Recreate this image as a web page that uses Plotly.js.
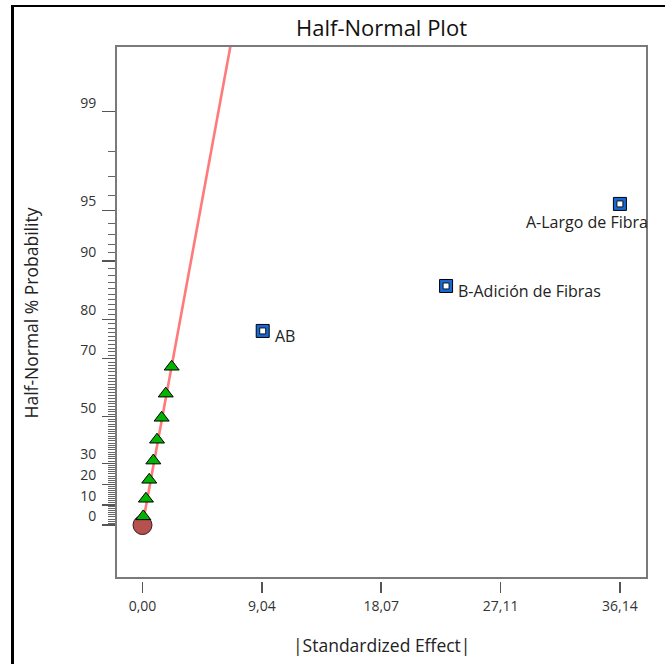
<!DOCTYPE html>
<html><head><meta charset="utf-8">
<script src="https://cdn.plot.ly/plotly-3.0.1.min.js"></script>
<style>
html,body{margin:0;padding:0;background:#fff;overflow:hidden}
#wrap{position:relative;width:665px;height:664px}
#chart{width:665px;height:664px}
#border{position:absolute;left:11px;top:5px;width:700px;height:700px;border-left:3px solid #000;border-top:2px solid #000;pointer-events:none}
</style></head><body>
<div id="wrap"><div id="chart"></div><div id="border"></div></div>
<script>
// ---- data ----
const errorEffect = [0.00];
const errorProb = [0.0];
const triEffect = [0.06, 0.26, 0.51, 0.82, 1.10, 1.45, 1.76, 2.21];
const triProb = [4.3, 13.0, 22.2, 31.2, 40.5, 49.6, 58.7, 67.6];
const termNames = ["AB", "B-Adición de Fibras", "A-Largo de Fibra"];
const termEffect = [9.10, 22.98, 36.14];
const termProb = [77.35, 86.37, 95.46];
const lineEffect = [0, 7.0];
const lineProb = [0, 99.83];
const xTickVals = [0, 9.04, 18.07, 27.11, 36.14];
const xTickText = ["0,00", "9,04", "18,07", "27,11", "36,14"];
const yTickProb = [0, 10, 20, 30, 50, 70, 80, 90, 95, 99];

// ---- half-normal probability scale ----
function normInv(p) {
  const a = [-3.969683028665376e+01, 2.209460984245205e+02, -2.759285104469687e+02, 1.383577518672690e+02, -3.066479806614716e+01, 2.506628277459239e+00];
  const b = [-5.447609879822406e+01, 1.615858368580409e+02, -1.556989798598866e+02, 6.680131188771972e+01, -1.328068155288572e+01];
  const c = [-7.784894002430293e-03, -3.223964580411365e-01, -2.400758277161838e+00, -2.549732539343734e+00, 4.374664141464968e+00, 2.938163982698783e+00];
  const d = [7.784695709041462e-03, 3.224671290700398e-01, 2.445134137142996e+00, 3.754408661907416e+00];
  const pl = 0.02425, ph = 1 - pl;
  let q, r;
  if (p < pl) { q = Math.sqrt(-2 * Math.log(p)); return (((((c[0]*q+c[1])*q+c[2])*q+c[3])*q+c[4])*q+c[5]) / ((((d[0]*q+d[1])*q+d[2])*q+d[3])*q+1); }
  if (p <= ph) { q = p - 0.5; r = q*q; return (((((a[0]*r+a[1])*r+a[2])*r+a[3])*r+a[4])*r+a[5])*q / (((((b[0]*r+b[1])*r+b[2])*r+b[3])*r+b[4])*r+1); }
  q = Math.sqrt(-2 * Math.log(1 - p)); return -(((((c[0]*q+c[1])*q+c[2])*q+c[3])*q+c[4])*q+c[5]) / ((((d[0]*q+d[1])*q+d[2])*q+d[3])*q+1);
}
const hz = pct => (pct <= 0 ? 0 : normInv(0.5 + pct / 200));

const minorProb = [];
for (let i = 1; i < 99; i++) if (!yTickProb.includes(i)) minorProb.push(i);

const traces = [
  { x: lineEffect, y: lineProb.map(hz), mode: 'lines', line: { color: '#ff7a7a', width: 2.6 }, hoverinfo: 'skip' },
  { x: errorEffect, y: errorProb.map(hz), mode: 'markers', marker: { symbol: 'circle', size: 19, color: '#b5524f', line: { color: '#3a1a1a', width: 1 } } },
  { x: triEffect, y: triProb.map(hz), mode: 'markers', marker: { symbol: 'triangle-up', size: 13, color: '#00b400', line: { color: '#000', width: 1 } } },
  { x: termEffect, y: termProb.map(hz), mode: 'markers', marker: { symbol: 'square', size: 13, color: '#1668d4', line: { color: '#000', width: 1 } } },
  { x: termEffect, y: termProb.map(hz), mode: 'markers', marker: { symbol: 'square', size: 6, color: '#ffffff', line: { color: '#111', width: 1 } } }
];

const FONT = 'Open Sans, sans-serif';
const labelFont = { family: FONT, size: 16, color: '#222' };
const annotations = [
  { x: termEffect[0], y: hz(termProb[0]), text: termNames[0], showarrow: false, xanchor: 'left', yanchor: 'middle', xshift: 10, yshift: -5, font: labelFont },
  { x: termEffect[1], y: hz(termProb[1]), text: termNames[1], showarrow: false, xanchor: 'left', yanchor: 'middle', xshift: 10, yshift: -5, font: labelFont },
  { x: termEffect[2], y: hz(termProb[2]), text: termNames[2], showarrow: false, xanchor: 'right', yanchor: 'middle', xshift: 30, yshift: -18, font: labelFont },
  { xref: 'paper', yref: 'paper', x: 0, y: 0.5, xanchor: 'center', yanchor: 'middle', xshift: -86, textangle: -90, showarrow: false,
    text: 'Half-Normal % Probability', font: { family: FONT, size: 17.5, color: '#222' } },
  { xref: 'paper', yref: 'paper', x: 0.5, y: 0, xanchor: 'center', yanchor: 'middle', yshift: -64, showarrow: false,
    text: '|Standardized Effect|', font: { family: FONT, size: 17.5, color: '#222' } }
];

const layout = {
  width: 665, height: 664,
  margin: { l: 116, r: 18, t: 46, b: 83 },
  paper_bgcolor: '#fff', plot_bgcolor: '#fff',
  showlegend: false,
  title: { text: 'Half-Normal Plot', x: 0.5, xref: 'paper', xanchor: 'center', y: 1 - 28 / 664, yref: 'container', yanchor: 'middle',
           font: { family: FONT, size: 22, color: '#111' } },
  xaxis: {
    range: [-2.006, 38.19], anchor: 'free', position: 0,
    tickmode: 'array', tickvals: xTickVals, ticktext: xTickText,
    ticks: 'outside', ticklen: 11, tickwidth: 1.5, tickcolor: '#555',
    showgrid: false, zeroline: false, showline: false,
    tickfont: { family: FONT, size: 14, color: '#333' }, ticklabelstandoff: 1
  },
  yaxis: {
    range: [-0.330, 2.985], domain: [3 / 535, 1],
    tickmode: 'array', tickvals: yTickProb.map(hz), ticktext: yTickProb.map(String),
    ticks: 'outside', ticklen: 13, tickwidth: 1.3, tickcolor: '#555',
    minor: { tickmode: 'array', tickvals: minorProb.map(hz), ticks: 'outside', ticklen: 7, tickwidth: 1, tickcolor: '#666', showgrid: false },
    showgrid: false, zeroline: false, showline: false,
    tickfont: { family: FONT, size: 14, color: '#333' },
    ticklabelshift: -9, ticklabelstandoff: 3
  },
  shapes: [
    { type: 'rect', xref: 'x domain', yref: 'y domain', x0: 0, x1: 1, y0: 0, y1: 1, line: { color: '#7a7a7a', width: 2 }, layer: 'above' }
  ],
  annotations: annotations
};

Plotly.newPlot('chart', traces, layout, { displayModeBar: false, staticPlot: true });
</script>
</body></html>
